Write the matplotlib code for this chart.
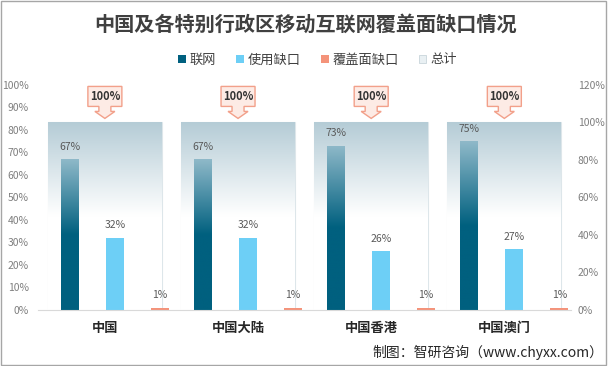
import numpy as np
import matplotlib
matplotlib.use("Agg")
import matplotlib.pyplot as plt
from matplotlib.colors import LinearSegmentedColormap
from matplotlib.patches import Patch, Polygon, Rectangle
from matplotlib.transforms import Affine2D, ScaledTranslation

plt.rcParams['font.family'] = ['Noto Sans CJK SC', 'DejaVu Sans']

regions = ["中国", "中国大陆", "中国香港", "中国澳门"]
online = [0.67, 0.67, 0.73, 0.75]       # 联网
usage_gap = [0.32, 0.32, 0.26, 0.27]    # 使用缺口
coverage_gap = [0.01, 0.01, 0.01, 0.01] # 覆盖面缺口
total = [1.0, 1.0, 1.0, 1.0]            # 总计
left_ticks = np.arange(0, 1.01, 0.1)
right_ticks = np.arange(0, 1.21, 0.2)

dark = "#00607f"
cyan = "#6dcff6"
salmon = "#f4937a"

fig = plt.figure(figsize=(6.08, 3.66), dpi=100)
ax = fig.add_axes([0.063, 0.153, 0.876, 0.615])
ax2 = ax.twinx()
ax.set_zorder(ax2.get_zorder() + 1)
ax.patch.set_visible(False)

x = np.arange(len(regions))
bw = 0.135
offs = [-0.263, 0.075, 0.413]

# background "total" panels on the right axis
panel_cmap = LinearSegmentedColormap.from_list(
    "panel", [(0, "#ffffff"), (0.5, "#ffffff"), (1.0, "#b5ccd6")])
panels = ax2.bar(x, total, 0.856, facecolor="none", edgecolor="#dde6ea", lw=0.8)
grad = np.linspace(0, 1, 256).reshape(-1, 1)
for p in panels:
    x0 = p.get_x()
    im = ax2.imshow(grad, cmap=panel_cmap, origin="lower", aspect="auto",
                    extent=[x0, x0 + p.get_width(), 0, p.get_height()], zorder=1)
    im.set_clip_path(p)

# 联网 bars with gradient
bar_cmap = LinearSegmentedColormap.from_list(
    "bar", [(0, dark), (0.5, dark), (1.0, "#8fb9c9")])
b1 = ax.bar(x + offs[0], online, bw, facecolor="none", edgecolor="none")
for p in b1:
    x0 = p.get_x()
    im = ax.imshow(grad, cmap=bar_cmap, origin="lower", aspect="auto",
                   extent=[x0, x0 + p.get_width(), 0, p.get_height()], zorder=2)
    im.set_clip_path(p)
b2 = ax.bar(x + offs[1], usage_gap, bw, color=cyan, zorder=2)
b3 = ax.bar(x + offs[2], coverage_gap, bw, color=salmon, zorder=2)

for bars in (b1, b2, b3):
    for p in bars:
        v = p.get_height()
        ax.annotate("%d%%" % round(v * 100), (p.get_x() + p.get_width() / 2, v),
                    xytext=(0, 12.5), textcoords="offset pixels",
                    ha="center", va="center", fontsize=7.5, color="#595959")

# 100% callouts
verts = [(-17, 36), (17, 36), (17, 16), (6, 16), (6, 11), (10, 11), (0, 4),
         (-10, 11), (-6, 11), (-6, 16), (-17, 16)]
for xi, t in zip(x, total):
    tr = Affine2D() + ScaledTranslation(xi, t, ax2.transData)
    poly = Polygon(verts, closed=True, transform=tr, facecolor="#fdebe5",
                   edgecolor="#f2a08a", lw=1, clip_on=False, zorder=5)
    ax2.add_patch(poly)
    ax2.annotate("%d%%" % round(t * 100), (xi, t), xytext=(0, 26),
                 textcoords="offset pixels", ha="center", va="center",
                 fontsize=8, fontweight="bold", color="#333333",
                 annotation_clip=False, zorder=6)

ax.set_xlim(-0.5, len(regions) - 0.5)
ax.set_ylim(0, 1.0)
ax2.set_ylim(0, 1.2)
ax.set_yticks(left_ticks)
ax.set_yticklabels(["%d%%" % round(v * 100) for v in left_ticks])
ax2.set_yticks(right_ticks)
ax2.set_yticklabels(["%d%%" % round(v * 100) for v in right_ticks])
ax.set_xticks(x)
ax.set_xticklabels(regions, fontsize=9.5, fontweight="bold", color="#262626")
ax.tick_params(axis="x", length=0, pad=8)
ax.tick_params(axis="y", length=0, pad=7, labelsize=7.5, labelcolor="#7f7f7f")
ax2.tick_params(axis="y", length=0, pad=5, labelsize=7.5, labelcolor="#7f7f7f")
for a in (ax, ax2):
    for s in ("left", "right", "top"):
        a.spines[s].set_visible(False)
ax.spines["bottom"].set_color("#d9d9d9")
ax2.spines["bottom"].set_visible(False)

handles = [Patch(facecolor=dark), Patch(facecolor=cyan), Patch(facecolor=salmon),
           Patch(facecolor="#e9f0f3", edgecolor="#c9d5db", lw=0.6)]
fig.legend(handles, ["联网", "使用缺口", "覆盖面缺口", "总计"], loc="center",
           bbox_to_anchor=(0.522, 1 - 60 / 366), ncol=4, frameon=False,
           fontsize=9.5, handlelength=0.6, handleheight=0.6, handletextpad=0.3,
           columnspacing=1.5, labelcolor="#404040")

fig.text(0.503, 1 - 24 / 366, "中国及各特别行政区移动互联网覆盖面缺口情况",
         ha="center", va="center", fontsize=14.5, fontweight="bold", color="#404040")
fig.text(603 / 608, 1 - 352 / 366, "制图：智研咨询（www.chyxx.com）",
         ha="right", va="center", fontsize=10, color="#262626")
fig.add_artist(Rectangle((0.002, 0.003), 0.995, 0.994, transform=fig.transFigure,
                         fill=False, edgecolor="#a6a6a6", lw=1))

fig.savefig("out.png", dpi=100)
